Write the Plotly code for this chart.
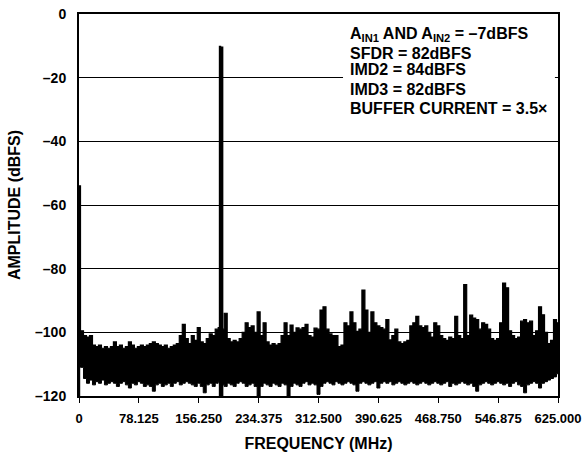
import plotly.graph_objects as go

# ---------------- data ----------------
bin_step_mhz = 625.0 / 160          # spectrum bins, 0 .. 625 MHz
noise_peak_dbfs = [
    -54, -99.5, -101, -101.5, -101, -104, -104.5, -104, -105, -104.5,
    -105, -104.5, -103, -104.5, -104, -105, -104.5, -103, -104, -105,
    -104.5, -104, -104.5, -104, -103.5, -103, -103.5, -104, -104.5, -104,
    -105, -104.5, -104, -103.5, -101, -97.5, -102, -103.5, -101, -102.5,
    -98.5, -103, -103.5, -102, -100.5, -101, -99, -98.5, -99, -94,
    -102, -103, -102.5, -103, -102, -100, -97, -98.5, -98, -100,
    -93.6, -101, -97, -103, -104, -103.5, -104, -103.5, -101, -97,
    -101, -97.7, -100, -98.6, -99, -98.5, -97.5, -101, -101.5, -98.7,
    -99, -93, -92, -99, -100.5, -101, -101, -104.5, -104, -97,
    -98, -93.6, -97, -99.7, -99, -86.7, -93, -100, -93.6, -97,
    -98, -98.5, -99, -96, -102.4, -101, -99, -103, -103.5, -103,
    -102.5, -98, -97, -95, -98, -98.5, -98, -100, -101.5, -97,
    -98, -101, -102, -102.5, -101.5, -102, -95, -101, -102, -85,
    -101, -94.6, -95.5, -96, -99, -97, -97.5, -99, -102, -102.5,
    -102, -97, -84.5, -86, -99.5, -101, -102, -101.5, -96.5, -96,
    -97, -96.5, -101, -99.5, -92, -94.5, -100, -103.5, -102.5, -96,
    -97,
]
noise_floor_dbfs = [
    -110, -111, -114.5, -116, -115, -116.5, -115.5, -116, -115, -116.5,
    -116, -115.5, -116, -117, -116, -115.5, -116.5, -117.5, -116, -116.5,
    -115.5, -116, -117, -116.5, -117, -118.5, -116.5, -116, -117, -116.5,
    -116, -117, -116, -115.5, -116.5, -116, -115.5, -116, -116.5, -117,
    -116, -117, -119, -116.5, -116, -117, -116, -115.5, -116.5, -117,
    -116, -116.5, -117, -116, -115.5, -116, -117, -116.5, -116, -117,
    -120, -117, -116, -116.5, -117, -116, -116.5, -117, -116, -116.5,
    -120, -117, -116, -116.5, -117, -116, -115.5, -116.5, -116, -116.5,
    -119.5, -117, -116, -115.5, -116, -116.5, -115.5, -116, -116.5, -116,
    -115.5, -116, -116.5, -118.5, -116, -115.5, -116, -116.5, -116, -115.5,
    -117.5, -116, -115.5, -116, -115.5, -116.5, -116, -115.5, -116, -116.5,
    -116, -115.5, -116, -116.5, -116, -115.5, -116, -116.5, -116, -115.5,
    -116, -116.5, -116, -115.5, -117, -116, -116.5, -116, -115.5, -116,
    -116.5, -116, -117, -118.5, -116.5, -116, -115.5, -116, -116.5, -116,
    -115.5, -116, -116.5, -116, -117, -116, -115.5, -116.5, -117, -119,
    -116.5, -116, -115.5, -116, -117.5, -116, -115.5, -115, -114.5, -114,
    -113,
]
tone_freqs_mhz = [184.0, 186.8]
tone_levels_dbfs = [-10.0, -10.2]
dc_freq_mhz = [0.8]
dc_level_dbfs = [-54.0]

x_tick_vals = [0, 78.125, 156.25, 234.375, 312.5, 390.625, 468.75, 546.875, 625]
x_tick_text = ["0", "78.125", "156.250", "234.375", "312.500", "390.625",
               "468.750", "546.875", "625.000"]
y_tick_vals = [0, -20, -40, -60, -80, -100, -120]
y_tick_text = ["0", "\u201320", "\u201340", "\u201360", "\u201380", "\u2013100", "\u2013120"]

info_lines = [
    "A<sub>IN1</sub> AND A<sub>IN2</sub> = \u20137dBFS",
    "SFDR = 82dBFS",
    "IMD2 = 84dBFS",
    "IMD3 = 82dBFS",
    "BUFFER CURRENT = 3.5\u00d7",
]
info_line_levels = [-6.3, -12.4, -17.4, -23.6, -29.6]   # vertical placement (dBFS)

# ---------------- figure ----------------
freqs = [i * bin_step_mhz for i in range(len(noise_peak_dbfs))]
FONT = "Liberation Sans, Arial, sans-serif"

fig = go.Figure()
fig.add_trace(go.Scatter(x=freqs, y=noise_floor_dbfs, mode="lines",
                         line=dict(color="black", width=1, shape="hvh"),
                         hoverinfo="skip", showlegend=False))
fig.add_trace(go.Scatter(x=freqs, y=noise_peak_dbfs, mode="lines",
                         line=dict(color="black", width=1.2, shape="hvh"),
                         fill="tonexty", fillcolor="black",
                         hoverinfo="skip", showlegend=False))

tx, ty = [], []
for f, lv in zip(tone_freqs_mhz, tone_levels_dbfs):
    tx += [f, f, None]
    ty += [-120, lv, None]
fig.add_trace(go.Scatter(x=tx, y=ty, mode="lines",
                         line=dict(color="black", width=2.4),
                         hoverinfo="skip", showlegend=False))
dx, dy = [], []
for f, lv in zip(dc_freq_mhz, dc_level_dbfs):
    dx += [f, f, None]
    dy += [-120, lv, None]
fig.add_trace(go.Scatter(x=dx, y=dy, mode="lines",
                         line=dict(color="black", width=1.2),
                         hoverinfo="skip", showlegend=False))

# white backing behind the text block (interrupts the -20 gridline)
fig.add_shape(type="rect", xref="x", yref="y", x0=344.5, x1=621, y0=-25, y1=-3,
              fillcolor="white", line=dict(width=0), layer="above")
for txt, lv in zip(info_lines, info_line_levels):
    fig.add_annotation(
        x=352, y=lv, xref="x", yref="y", xanchor="left", yanchor="middle",
        text=txt, align="left", showarrow=False, borderpad=0,
        font=dict(family=FONT, size=16, color="black", weight="bold"),
    )

fig.update_layout(
    width=584, height=452,
    margin=dict(l=79, r=26, t=14, b=56),
    paper_bgcolor="white", plot_bgcolor="white",
    font=dict(family=FONT, color="black", weight="bold"),
    xaxis=dict(
        range=[0, 625], tickvals=x_tick_vals, ticktext=x_tick_text,
        showgrid=False, zeroline=False, automargin=False,
        ticks="outside", ticklen=5, tickwidth=1, tickcolor="black",
        ticklabelstandoff=4,
        showline=True, mirror=True, linewidth=2, linecolor="black",
        tickfont=dict(family=FONT, size=13, weight="bold"),
        title=dict(text="FREQUENCY (MHz)", standoff=16,
                   font=dict(family=FONT, size=16, weight="bold")),
    ),
    yaxis=dict(
        range=[-120, 0], tickvals=y_tick_vals, ticktext=y_tick_text,
        showgrid=True, gridcolor="black", gridwidth=1, zeroline=False,
        automargin=False,
        ticks="", ticklabelstandoff=8,
        showline=True, mirror=True, linewidth=2, linecolor="black",
        tickfont=dict(family=FONT, size=14, weight="bold"),
        title=dict(text="AMPLITUDE (dBFS)", standoff=10,
                   font=dict(family=FONT, size=16, weight="bold")),
    ),
)

# remove the default page margin so the figure sits at the window's top-left corner
fig.write_html(
    "out.html",
    config={"displayModeBar": False},
    post_script="document.body.style.margin='0';document.body.style.overflow='hidden';",
)
